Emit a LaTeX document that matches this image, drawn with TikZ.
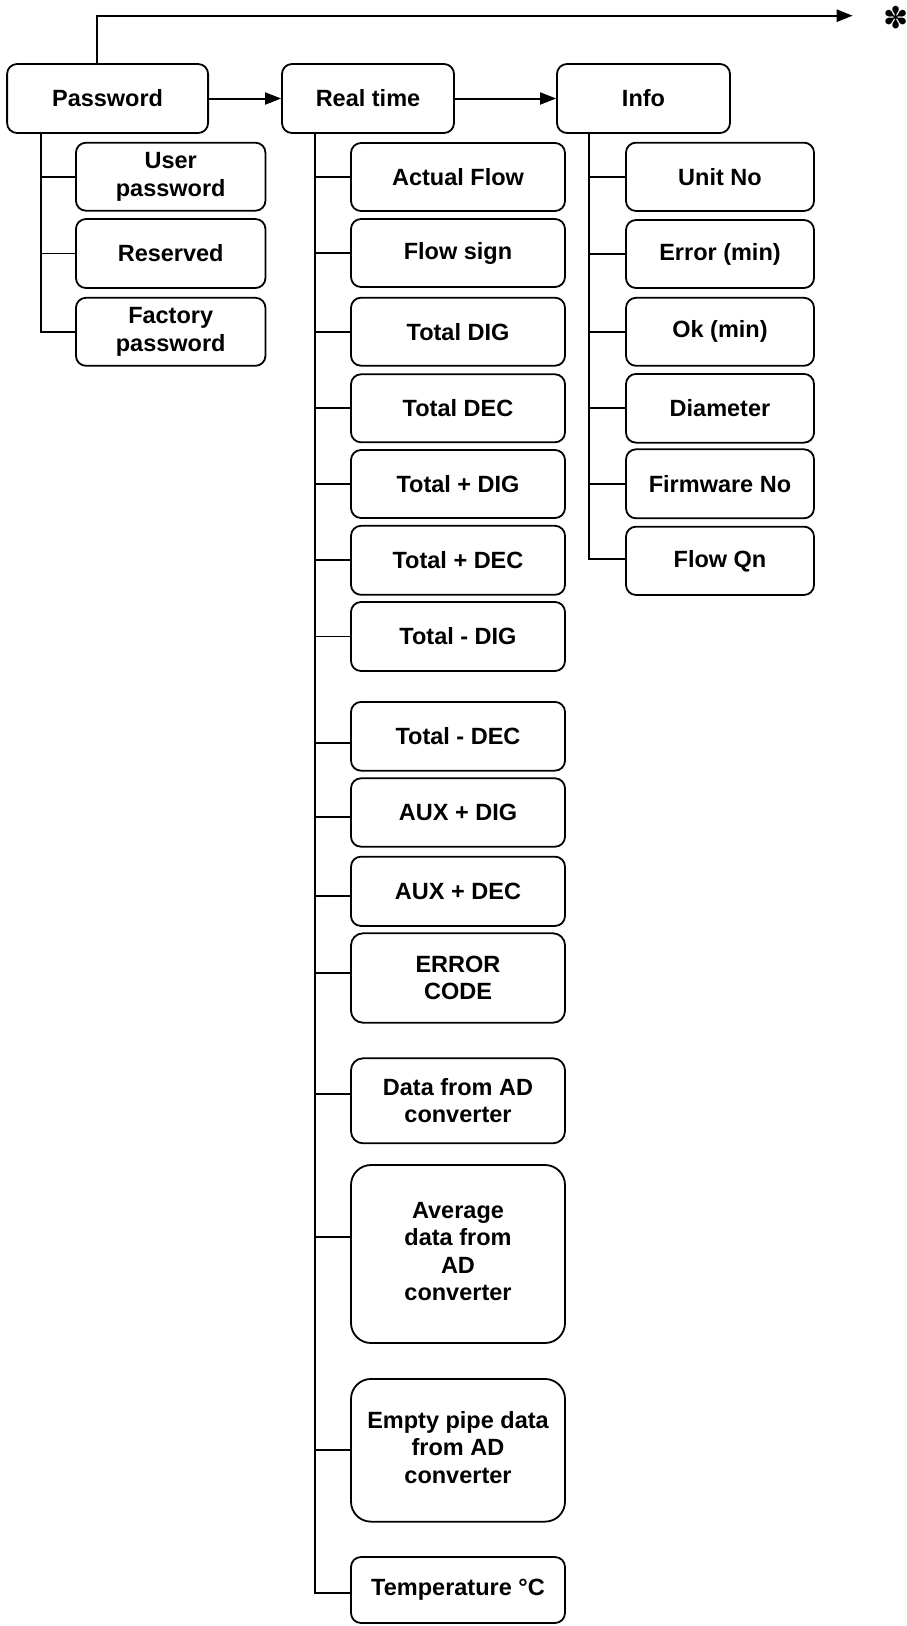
\documentclass[tikz,border=0pt]{standalone}
\usepackage{fontspec}
\setmainfont{Liberation Sans}
\newfontfamily\symfont{DejaVu Sans}
\usetikzlibrary{arrows.meta}
\newcommand{\liftup}[2]{\raisebox{#1}{\begin{tabular}{@{}c@{}}#2\end{tabular}}}
\tikzset{
  box/.style={draw, line width=1.8pt, rounded corners=10pt, align=center, inner sep=0pt,
    font=\bfseries\fontsize{23.5pt}{27.5pt}\selectfont},
  mainbox/.style={box, minimum height=69pt},
  pbox/.style={box, minimum width=189.5pt},
  rbox/.style={box, minimum width=214pt},
  ibox/.style={box, minimum width=188pt},
  conn/.style={line width=1.8pt},
  arr/.style={line width=2pt, -{Triangle[length=16pt,width=12pt]}},
}
\begin{document}
\begin{tikzpicture}[x=1pt,y=-1pt]
\useasboundingbox (0,0) rectangle (907,1626);

% main row
\node[mainbox, minimum width=201pt] (pw) at (107.6,98.5) {Password};
\node[mainbox, minimum width=172pt] (rt) at (368,98.5) {Real time};
\node[mainbox, minimum width=173pt] (info) at (643.5,98.5) {Info};
\node[font=\symfont\fontsize{30pt}{30pt}\selectfont, inner sep=0pt] (star) at (896.5,17.7) {✽};

\draw[arr] (pw.east) -- (rt.west);
\draw[arr] (rt.east) -- (info.west);
\coordinate (top) at ([xshift=91pt]pw.north west);
\draw[arr, line width=2.4pt] (top) |- ([xshift=-31pt,yshift=2pt]star.west);

% Password children
\node[pbox, minimum height=68pt] (upw) at (170.7,176.7) {User\\password};
\node[pbox, minimum height=69pt] (res) at (170.7,253.5) {Reserved};
\node[pbox, minimum height=68pt] (fpw) at (170.7,331.8) {Factory\\password};
\coordinate (pspine) at ([xshift=35pt]pw.south west);
\draw[conn] (pspine) |- (fpw.west);
\draw[conn] (upw.west) -- (upw.west -| pspine);
\draw[conn] (res.west) -- (res.west -| pspine);

% Real time children
\node[rbox, minimum height=68pt] (af) at (458,177) {Actual Flow};
\node[rbox, minimum height=68pt] (fs) at (458,253) {Flow sign};
\node[rbox, minimum height=68pt] (tdig) at (458,331.7) {Total DIG};
\node[rbox, minimum height=68pt] (tdec) at (458,408.3) {Total DEC};
\node[rbox, minimum height=68pt] (tpdig) at (458,484) {Total + DIG};
\node[rbox, minimum height=69pt] (tpdec) at (458,560.3) {Total + DEC};
\node[rbox, minimum height=69pt] (tmdig) at (458,636.5) {Total - DIG};
\node[rbox, minimum height=68.7pt] (tmdec) at (458,736.3) {Total - DEC};
\node[rbox, minimum height=68.4pt] (adig) at (458,812.5) {AUX + DIG};
\node[rbox, minimum height=69.3pt] (adec) at (458,891.3) {AUX + DEC};
\node[rbox, minimum height=89.4pt, rounded corners=12pt] (err) at (458,978) {ERROR\\CODE};
\node[rbox, minimum height=85pt, rounded corners=12pt] (dad) at (458,1100.8) {Data from AD\\converter};
\node[rbox, minimum height=178pt, rounded corners=20pt] (avg) at (458,1254) {\liftup{11pt}{Average\\data from\\AD\\converter}};
\node[rbox, minimum height=142.7pt, rounded corners=20pt] (emp) at (458,1450.3) {\liftup{8pt}{Empty pipe data\\from AD\\converter}};
\node[rbox, minimum height=66pt] (temp) at (458,1590) {Temperature °C};

\coordinate (rspine) at ([xshift=34pt]rt.south west);
\draw[conn] (rspine) |- ([yshift=-3pt]temp.west);
\foreach \n in {af,fs,tdig,tdec,tpdig,tpdec,tmdig,emp}
  \draw[conn] (\n.west) -- (\n.west -| rspine);
\foreach \n/\d in {tmdec/-6.4,adig/-4.2,adec/-4.7,err/5.3,dad/6.8,avg/17.3}
  \draw[conn] ([yshift=\d pt]\n.west) -- ([yshift=\d pt]\n.west -| rspine);

% Info children
\node[ibox, minimum height=68.3pt] (un) at (720,176.8) {Unit No};
\node[ibox, minimum height=68pt] (er) at (720,254) {Error (min)};
\node[ibox, minimum height=68pt] (ok) at (720,331.8) {Ok (min)};
\node[ibox, minimum height=68.7pt] (dia) at (720,408.3) {Diameter};
\node[ibox, minimum height=69pt] (fw) at (720,483.8) {Firmware No};
\node[ibox, minimum height=68.3pt] (fq) at (720,560.8) {Flow Qn};
\coordinate (ispine) at ([xshift=33pt]info.south west);
\draw[conn] (ispine) |- ([yshift=2pt]fq.west);
\foreach \n in {un,er,ok,dia,fw}
  \draw[conn] (\n.west) -- (\n.west -| ispine);
\end{tikzpicture}
\end{document}
